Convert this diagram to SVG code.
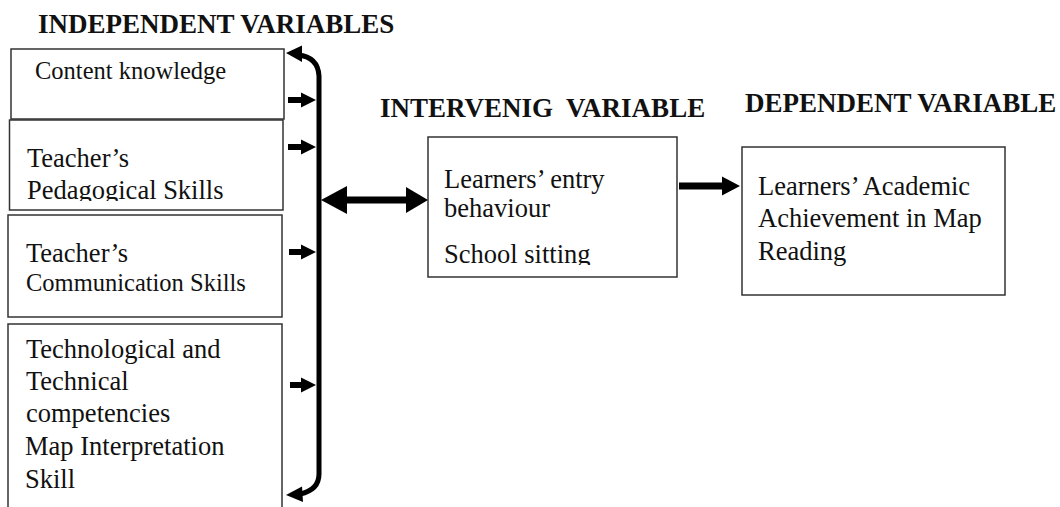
<svg xmlns="http://www.w3.org/2000/svg" width="1060" height="507" viewBox="0 0 1060 507">
  <style>
    .box { fill: #fff; stroke: #333; stroke-width: 1.5; }
    .t { font-family: "Liberation Serif", "Times New Roman", serif; font-size: 26.5px; fill: #111; }
    .s { font-size: 24.5px; }
    .h { font-family: "Liberation Serif", "Times New Roman", serif; font-size: 27px; font-weight: bold; fill: #111; }
    .ln { fill: none; stroke: #000; stroke-width: 5; }
    .ah { fill: #000; }
  </style>
  <defs>
    <clipPath id="c2"><rect x="9" y="120" width="274" height="81"/></clipPath>
    <clipPath id="c5"><rect x="428" y="137" width="249" height="128"/></clipPath>
  </defs>
  <rect width="1060" height="507" fill="#fff"/>

  <g id="headings">
    <text class="h" x="38" y="33">INDEPENDENT VARIABLES</text>
    <text class="h" x="380" y="117" xml:space="preserve">INTERVENIG  VARIABLE</text>
    <text class="h" x="745" y="112">DEPENDENT VARIABLE</text>
  </g>

  <g id="node-content">
    <rect class="box" x="11" y="49" width="273" height="70"/>
    <text class="t s" x="35" y="79">Content knowledge</text>
  </g>
  <g id="node-pedagogical">
    <rect class="box" x="9.5" y="120" width="273.5" height="90"/>
    <g clip-path="url(#c2)">
      <text class="t" x="27" y="167">Teacher’s</text>
      <text class="t" x="27" y="199">Pedagogical Skills</text>
    </g>
  </g>
  <g id="node-communication">
    <rect class="box" x="8" y="215" width="274" height="102"/>
    <text class="t" x="26" y="262">Teacher’s</text>
    <text class="t s" x="26" y="291">Communication Skills</text>
  </g>
  <g id="node-technological">
    <rect class="box" x="8" y="324" width="274" height="190"/>
    <text class="t" x="26" y="358">Technological and</text>
    <text class="t" x="26" y="390">Technical</text>
    <text class="t" x="26" y="422">competencies</text>
    <text class="t" x="25" y="455">Map Interpretation</text>
    <text class="t" x="25" y="488">Skill</text>
  </g>
  <g id="node-intervening">
    <rect class="box" x="428" y="137" width="249" height="140"/>
    <g clip-path="url(#c5)">
      <text class="t" x="444" y="188" xml:space="preserve">Learners’ entry</text>
      <text class="t" x="444" y="217">behaviour</text>
      <text class="t" x="444" y="263">School sitting</text>
    </g>
  </g>
  <g id="node-dependent">
    <rect class="box" x="742" y="147" width="263" height="148"/>
    <text class="t" x="758" y="195">Learners’ Academic</text>
    <text class="t" x="758" y="227">Achievement in Map</text>
    <text class="t" x="758" y="260">Reading</text>
  </g>

  <g id="connectors">
    <path class="ln" d="M298,55 Q318,57 319,76 V474 Q319,490 300,494"/>
    <polygon class="ah" points="286,53 302,45.5 302,62"/>
    <polygon class="ah" points="286,495 302,486.5 303,502"/>
    <rect class="ah" x="288" y="97" width="15" height="6"/>
    <polygon class="ah" points="301,92.5 316,100 301,107.5"/>
    <rect class="ah" x="288" y="144" width="15" height="6"/>
    <polygon class="ah" points="301,139.5 316,147 301,154.5"/>
    <rect class="ah" x="289" y="249" width="14" height="6"/>
    <polygon class="ah" points="301,244.5 316,252 301,259.5"/>
    <rect class="ah" x="290" y="382" width="13" height="6"/>
    <polygon class="ah" points="301,377.5 316,385 301,392.5"/>
    <rect class="ah" x="345" y="196.5" width="63" height="7"/>
    <polygon class="ah" points="321,200 347,186 347,214"/>
    <polygon class="ah" points="428,200 406,187 406,213"/>
    <rect class="ah" x="679" y="182.5" width="45" height="7"/>
    <polygon class="ah" points="722,176.5 740,186 722,195.5"/>
  </g>
</svg>
